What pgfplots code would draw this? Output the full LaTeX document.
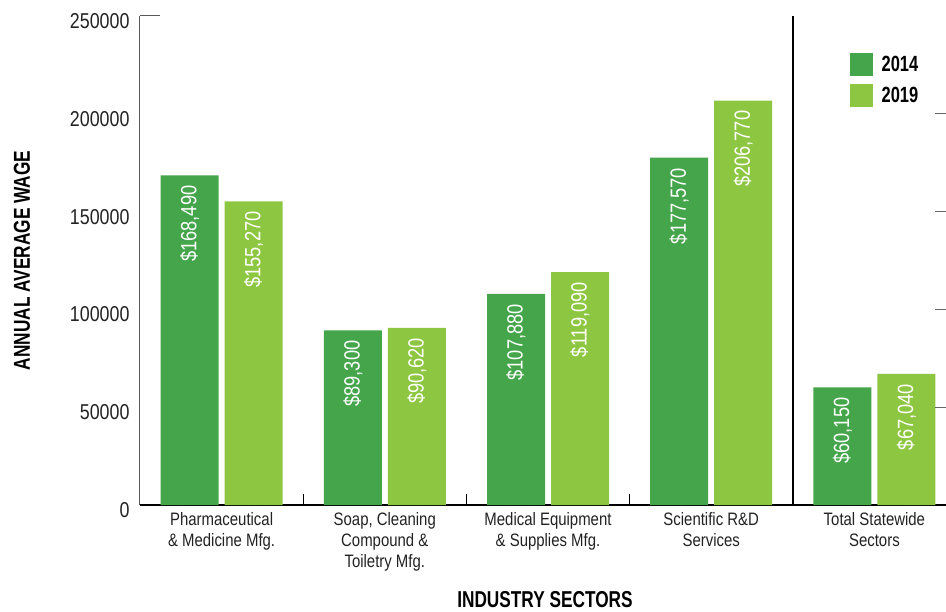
\documentclass[border=0pt]{standalone}
\usepackage{pgfplots}
\pgfplotsset{compat=1.18}
\usepackage{fontspec}
\setmainfont{Liberation Sans}[FakeStretch=0.83]
\newfontfamily\titlefont{Liberation Sans}[FakeStretch=0.75]
\definecolor{darkg}{HTML}{44A54A}
\definecolor{lightg}{HTML}{8DC641}
\definecolor{txt}{HTML}{222222}
\begin{document}
\begin{tikzpicture}
\begin{axis}[
  scale only axis, width=816pt, height=489pt,
  xmin=-0.5, xmax=4.5, ymin=0, ymax=250000,
  enlargelimits=false,
  axis x line=bottom, axis y line=left,
  axis line style={-},
  x axis line style={black, line width=1.3pt},
  y axis line style={black!65, line width=1pt},
  ybar=6pt, bar width=58pt,
  xtick={0,1,2,3,4},
  xticklabels={{Pharmaceutical\\\& Medicine Mfg.},{Soap, Cleaning\\Compound \&\\Toiletry Mfg.},{Medical Equipment\\\& Supplies Mfg.},{Scientific R\&D\\Services},{Total Statewide\\Sectors}},
  xticklabel style={align=center, font=\fontsize{18}{21}\selectfont, text=txt, yshift=-4pt},
  major x tick style={draw=none},
  minor xtick={0.5,1.5,2.5},
  minor x tick style={draw=black, line width=1pt},
  minor tick length=11pt,
  tick align=inside,
  extra x ticks={3.5}, extra x tick labels={},
  extra x tick style={grid=major, major grid style={black, line width=1.5pt}},
  ytick={0,50000,100000,150000,200000,250000},
  ytick style={draw=none},
  scaled y ticks=false,
  /pgf/number format/fixed,
  /pgf/number format/1000 sep={},
  /pgf/number format/assume math mode=true,
  yticklabel style={font=\fontsize{21.5}{21.5}\selectfont, text=txt, xshift=-7pt, yshift=-5pt},
  xlabel={INDUSTRY SECTORS},
  ylabel={ANNUAL AVERAGE WAGE},
  label style={font=\titlefont\bfseries\fontsize{23}{23}\selectfont, text=black},
  xlabel style={at={(axis description cs:0.4963,-0.194)}, anchor=center},
  ylabel style={at={(axis description cs:-0.1446,0.5)}, anchor=center},
  nodes near coords={\$\pgfmathprintnumber[fixed,precision=0,1000 sep={,}]{\pgfplotspointmeta}},
  every node near coord/.append style={rotate=90, anchor=east, inner xsep=10pt, text=white, font=\fontsize{22}{22}\selectfont},
  legend image code/.code={\fill[#1] (0pt,-11.5pt) rectangle (23pt,11.5pt);},
  legend style={at={(axis description cs:0.870,0.9243)}, anchor=north west, draw=none, fill=none,
    font=\titlefont\bfseries\fontsize{22}{22}\selectfont, row sep=8pt, inner sep=0pt,
    nodes={inner ysep=0pt, inner xsep=4.5pt},
    /tikz/every odd column/.append style={column sep=4pt}},
  legend cell align=left,
]
\addplot[fill=darkg, draw=none] coordinates {(0,168490) (1,89300) (2,107880) (3,177570) (4,60150)};
\addplot[fill=lightg, draw=none] coordinates {(0,155270) (1,90620) (2,119090) (3,206770) (4,67040)};
\legend{2014,2019}
\draw[black!65, line width=1pt] (rel axis cs:0,1) -- ([xshift=20pt]rel axis cs:0,1);
\coordinate (bl) at (rel axis cs:0,0);
\coordinate (tr) at (rel axis cs:1,1);
\end{axis}
\begin{axis}[
  scale only axis, width=816pt, height=489pt,
  xmin=-0.5, xmax=4.5, ymin=0, ymax=250000,
  axis x line=none, axis y line*=right,
  y axis line style={draw=none},
  scaled y ticks=false,
  ytick={50000,100000,150000,200000}, yticklabels={},
  tick align=inside, major tick length=21pt,
  ytick style={black!60, line width=1pt},
]
\end{axis}
\pgfresetboundingbox
\path[use as bounding box] ([shift={(-140pt,-106pt)}]bl) rectangle ([shift={(-10pt,16pt)}]tr);
\end{tikzpicture}
\end{document}
